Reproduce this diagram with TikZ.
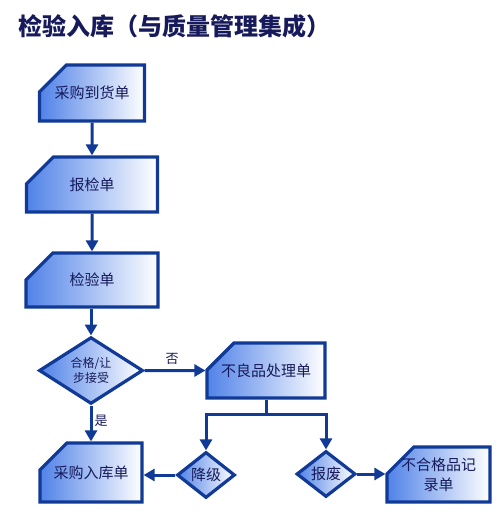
\documentclass[tikz,border=0pt]{standalone}
\usepackage{fontspec}
\newfontfamily\cjk{Noto Sans CJK SC}
\usetikzlibrary{shapes.misc,shapes.geometric,arrows.meta}
\definecolor{edgeblue}{RGB}{16,58,150}
\definecolor{fillblue}{RGB}{80,130,232}
\definecolor{textnavy}{RGB}{22,26,90}
\begin{document}
\begin{tikzpicture}[x=1pt,y=-1pt,
  doc/.style={chamfered rectangle, chamfered rectangle corners=north west,
    chamfered rectangle xsep=16pt, chamfered rectangle ysep=20pt,
    draw=edgeblue, line width=3.2pt, left color=fillblue, right color=white,
    text=textnavy, font=\cjk\fontsize{15}{20}\selectfont, inner sep=0pt, align=center},
  dec/.style={diamond, draw=edgeblue, line width=3.2pt, left color=fillblue, right color=white,
    text=textnavy, inner sep=0pt, align=center},
  flow/.style={draw=edgeblue, line width=3pt, -{Triangle[width=12pt,length=11pt]}},
  lbl/.style={text=textnavy, font=\cjk\fontsize{13}{15}\selectfont, inner sep=0pt}
]
\useasboundingbox (0,0) rectangle (501,512);
\node[anchor=west, text=textnavy, font=\cjk\bfseries\fontsize{24}{28}\selectfont, inner sep=0pt] (title) at (18,26) {检验入库（与质量管理集成）};

\node[doc, minimum width=105pt, minimum height=56pt] (b1) at (92,93) {采购到货单};
\node[doc, minimum width=131pt, minimum height=55pt] (b2) at (92,184.5) {报检单};
\node[doc, minimum width=132pt, minimum height=54pt] (b3) at (92,280) {检验单};
\node[dec, minimum width=104pt, minimum height=47pt, font=\cjk\fontsize{12}{15}\selectfont] (d1) at (91,370.5) {合格/让\\步接受};
\node[doc, minimum width=118pt, minimum height=55pt] (b4) at (266,370.5) {不良品处理单};
\node[doc, minimum width=102pt, minimum height=59pt] (b5) at (91,472.5) {采购入库单};
\node[dec, minimum width=58pt, minimum height=46pt, font=\cjk\fontsize{15}{18}\selectfont] (d2) at (206,475) {降级};
\node[dec, minimum width=59pt, minimum height=46pt, font=\cjk\fontsize{15}{18}\selectfont] (d3) at (326,474) {报废};
\node[doc, chamfered rectangle xsep=15pt, chamfered rectangle ysep=16pt, inner xsep=-5pt, inner ysep=-6pt,
  minimum width=103pt, minimum height=55pt] (b6) at (438.5,474.5) {不合格品记\\录单};

\draw[flow] (b1) -- (b2);
\draw[flow] (b2) -- (b3);
\draw[flow] (b3.south -| d1) -- (d1);
\draw[flow] (d1) -- (b4);
\draw[flow] (d1) -- (b5.north -| d1);
\draw[flow] (b4.south) -- ++(0,15) -| (d2.north);
\draw[flow] (b4.south) -- ++(0,15) -| (d3.north);
\draw[flow] (d2) -- (b5.east |- d2);
\draw[flow] (d3) -- (b6.west |- d3);

\node[lbl] (no) at (172,359) {否};
\node[lbl] (yes) at (101,421) {是};
\end{tikzpicture}
\end{document}
